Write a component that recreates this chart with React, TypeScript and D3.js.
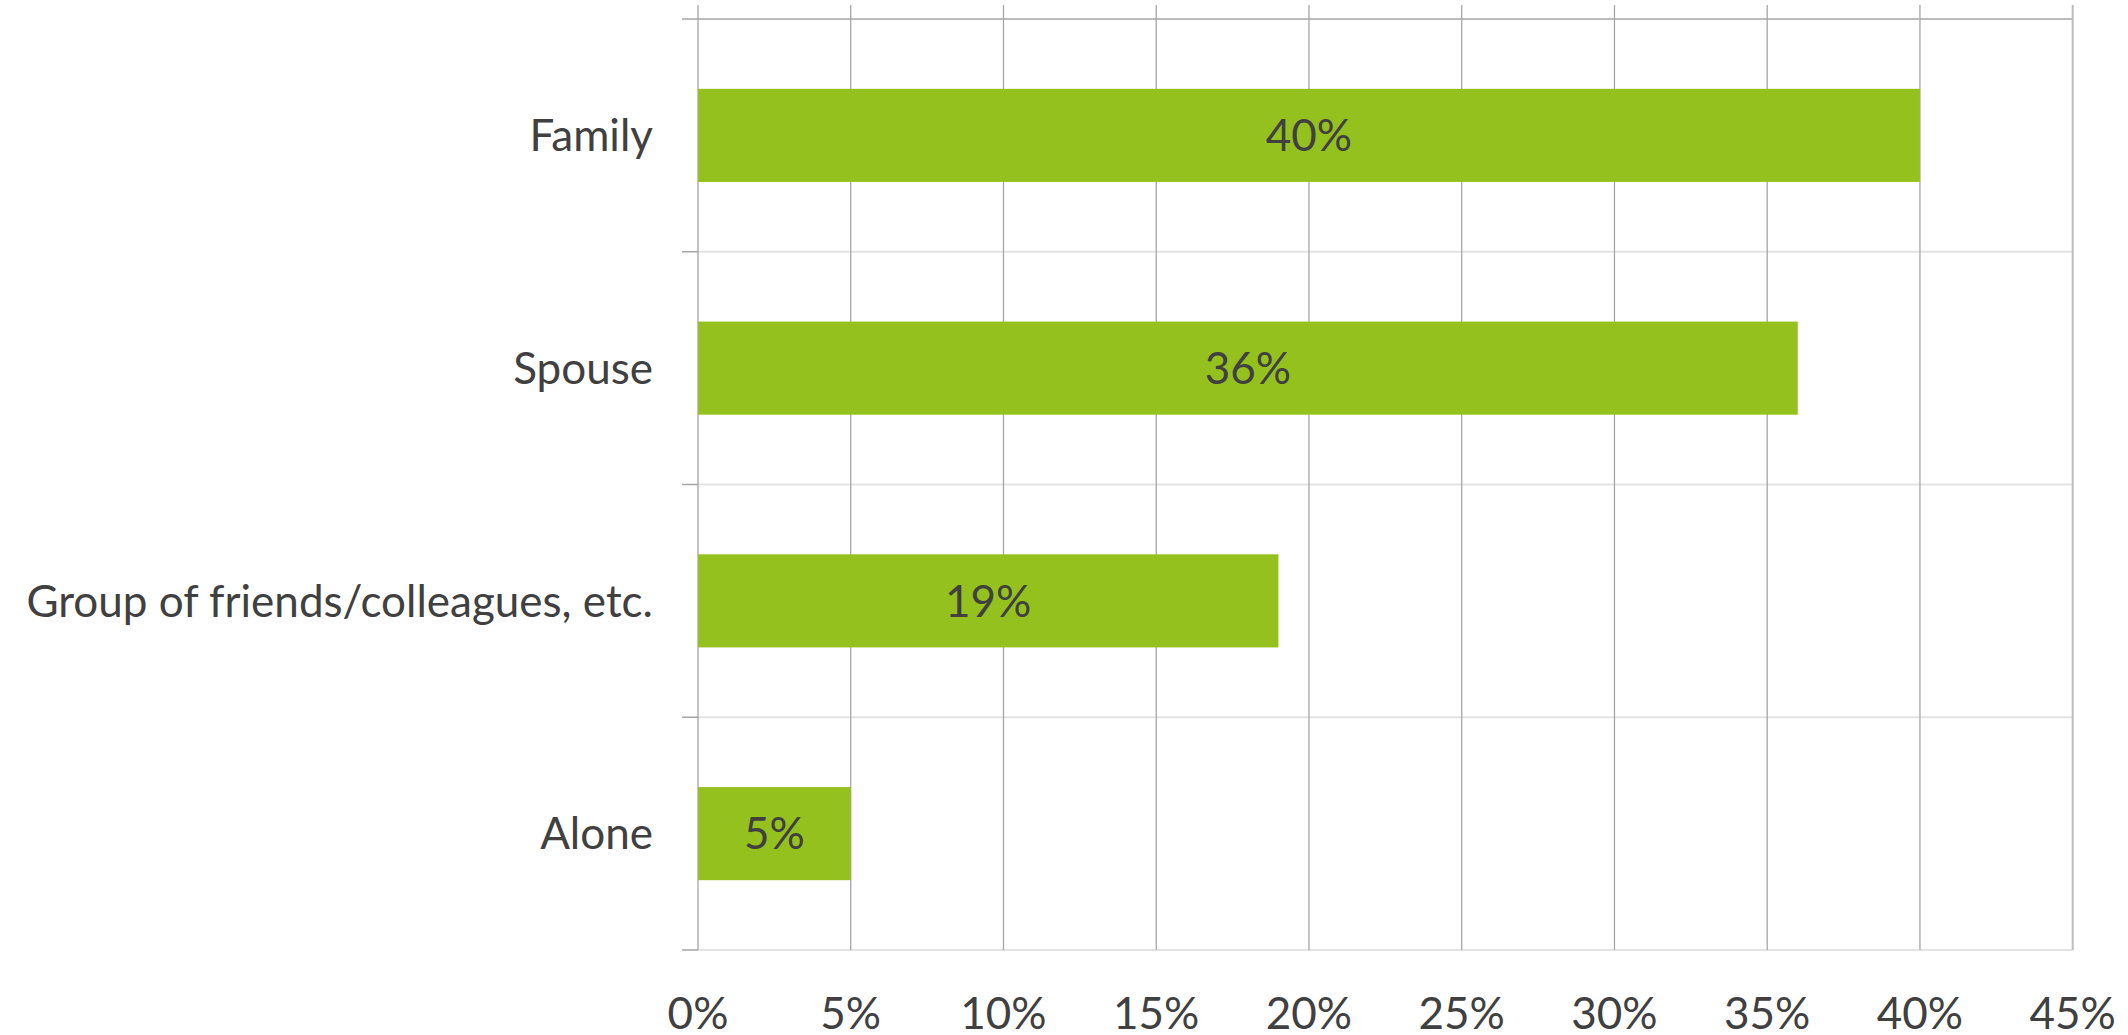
import React from "react";
import * as d3 from "d3";

const categories = ["Family", "Spouse", "Group of friends/colleagues, etc.", "Alone"];
const values = [40, 36, 19, 5];
const xTicks = [0, 5, 10, 15, 20, 25, 30, 35, 40, 45];

const W = 2128;
const H = 1035;
const left = 698;
const right = 2072.7;
const top = 19;
const bottom = 950;
const FONT = "Lato, 'Open Sans', sans-serif";
const TEXT = "#404040";
const FS = 44;

export default function App() {
  const x = d3.scaleLinear().domain([0, 45]).range([left, right]);
  const y = d3.scaleBand<string>().domain(categories).range([top, bottom]).paddingInner(0.6).paddingOuter(0.3);
  const bandEdges = d3.range(categories.length + 1).map((i) => top + (i * (bottom - top)) / categories.length);
  return (
    <svg width={W} height={H} style={{ position: "absolute", left: 0, top: 0, background: "#fff" }}>
      {bandEdges.map((yy, i) => (
        <line key={"h" + i} x1={left} x2={right} y1={yy} y2={yy}
          stroke={i === 0 ? "#a6a6a6" : "#e3e3e3"} strokeWidth={i === 0 ? 1.5 : 2} />
      ))}
      {xTicks.map((t) => (
        <line key={"v" + t} x1={x(t)} x2={x(t)} y1={5} y2={bottom}
          stroke={t === 45 ? "#bdbdbd" : "#a6a6a6"} strokeWidth={t === 45 ? 2 : 1.3} />
      ))}
      {bandEdges.map((yy, i) => (
        <line key={"t" + i} x1={682} x2={left} y1={yy} y2={yy} stroke="#a6a6a6" strokeWidth={1.5} />
      ))}
      {categories.map((c, i) => (
        <rect key={"b" + c} x={x(0)} y={y(c)} width={x(values[i]) - x(0)} height={y.bandwidth()} fill="#95c11f" />
      ))}
      {categories.map((c, i) => (
        <text key={"l" + c} x={(x(0) + x(values[i])) / 2} y={(y(c) as number) + y.bandwidth() / 2}
          dy="0.36em" textAnchor="middle" fontFamily={FONT} fontSize={FS} fill={TEXT}>
          {values[i]}%
        </text>
      ))}
      {categories.map((c) => (
        <text key={"c" + c} x={653} y={(y(c) as number) + y.bandwidth() / 2}
          dy="0.36em" textAnchor="end" fontFamily={FONT} fontSize={FS} fill={TEXT}>
          {c}
        </text>
      ))}
      {xTicks.map((t) => (
        <text key={"x" + t} x={x(t)} y={1029} textAnchor="middle" fontFamily={FONT} fontSize={FS} fill={TEXT}>
          {t}%
        </text>
      ))}
    </svg>
  );
}
